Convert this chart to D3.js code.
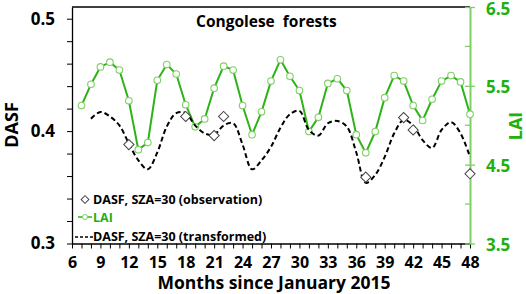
<!DOCTYPE html>
<html lang="en">
<head>
    <meta charset="UTF-8">
    <title>Congolese forests DASF / LAI</title>
    <script src="https://d3js.org/d3.v7.min.js"></script>
    <style>
        body {
            margin: 0;
            background: white;
            font-family: 'Open Sans', sans-serif;
        }
        svg text {
            font-weight: bold;
        }
    </style>
</head>
<body>
    <div id="chart"></div>

    <script>
        // months of each series
        const laiMonths = d3.range(7, 49);
        const laiValues = [5.25, 5.52, 5.74, 5.80, 5.70, 5.31, 4.69, 4.78, 5.57, 5.77,
            5.65, 5.26, 4.98, 5.08, 5.47, 5.75, 5.70, 5.25, 4.88, 5.17,
            5.56, 5.83, 5.62, 5.44, 4.92, 5.10, 5.53, 5.59, 5.44, 4.88,
            4.65, 4.92, 5.35, 5.63, 5.56, 5.25, 5.06, 5.33, 5.56, 5.63,
            5.55, 5.14];

        const dasfTransMonths = d3.range(8, 49);
        const dasfTransValues = [0.411, 0.417, 0.413, 0.405, 0.389, 0.374, 0.366, 0.381, 0.404, 0.416,
            0.416, 0.405, 0.398, 0.397, 0.405, 0.407, 0.388, 0.366, 0.374, 0.386,
            0.403, 0.415, 0.418, 0.401, 0.396, 0.407, 0.409, 0.404, 0.381, 0.354,
            0.361, 0.377, 0.398, 0.410, 0.405, 0.392, 0.385, 0.401, 0.408, 0.398,
            0.377];

        const dasfObsMonths = [12, 18, 21, 22, 37, 41, 42, 48];
        const dasfObsValues = [0.388, 0.413, 0.396, 0.413, 0.359, 0.412, 0.401, 0.362];

        const xTicks = d3.range(6, 49);
        const leftTicks = d3.range(0.3, 0.501, 0.02);
        const rightMajor = [3.5, 4.5, 5.5, 6.5];
        const rightMinor = [4, 5, 6];

        const width = 526, height = 294;
        const plotLeft = 72, plotRight = 470, plotTop = 7, plotBottom = 243.5;

        const green = "#22b00f";
        const lightGreen = "#7fcf66";

        const svg = d3.select("#chart")
            .append("svg")
            .attr("width", width)
            .attr("height", height);

        const x = d3.scaleLinear().domain([6, 48]).range([plotLeft, plotRight]);
        const yL = d3.scaleLinear().domain([0.3, 0.5104]).range([plotBottom, plotTop]);
        const yR = d3.scaleLinear().domain([3.5, 6.5]).range([plotBottom, plotTop]);

        // top frame line
        svg.append("line")
            .attr("x1", plotLeft).attr("x2", plotRight)
            .attr("y1", plotTop).attr("y2", plotTop)
            .attr("stroke", "black").attr("stroke-width", 1.3);

        // bottom axis
        const xAxis = svg.append("g")
            .attr("transform", `translate(0,${plotBottom})`)
            .call(d3.axisBottom(x)
                .tickValues(xTicks)
                .tickSize(5)
                .tickSizeOuter(0)
                .tickFormat(d => d % 3 === 0 ? d : ""));
        xAxis.select(".domain").attr("stroke-width", 1.3);
        xAxis.selectAll("text").filter(d => d % 3 !== 0).remove();
        xAxis.selectAll("text")
            .attr("font-size", 16)
            .attr("font-family", "'Open Sans', sans-serif")
            .attr("fill", "black")
            .attr("dy", "1.0em");

        // left axis
        const isMajor = d => Math.abs(d * 10 - Math.round(d * 10)) < 1e-6;
        const yAxis = svg.append("g")
            .attr("transform", `translate(${plotLeft},0)`)
            .call(d3.axisLeft(yL)
                .tickValues(leftTicks)
                .tickSize(5)
                .tickSizeOuter(0)
                .tickFormat(d => isMajor(d) ? d3.format(".1f")(d) : ""));
        yAxis.select(".domain").attr("stroke-width", 1.3);
        yAxis.selectAll("text").filter(d => !isMajor(d)).remove();
        yAxis.selectAll("text")
            .attr("font-size", 17)
            .attr("font-family", "'Open Sans', sans-serif")
            .attr("fill", "black")
            .attr("x", -17);

        // right axis (LAI)
        const rAxis = svg.append("g")
            .attr("transform", `translate(${plotRight},0)`)
            .call(d3.axisRight(yR)
                .tickValues(rightMajor)
                .tickSize(5)
                .tickSizeOuter(0)
                .tickFormat(d3.format(".1f")));
        rAxis.select(".domain").attr("stroke", lightGreen).attr("stroke-width", 2);
        rAxis.selectAll(".tick line").attr("x1", -5).attr("stroke", lightGreen).attr("stroke-width", 1.3);
        rAxis.selectAll("text")
            .attr("font-size", 17)
            .attr("font-family", "'Open Sans', sans-serif")
            .attr("fill", green)
            .attr("x", 16)
            .attr("dy", "0.42em");
        rAxis.selectAll(".minor")
            .data(rightMinor)
            .enter()
            .append("line")
            .attr("x1", -5).attr("x2", 0)
            .attr("y1", d => yR(d)).attr("y2", d => yR(d))
            .attr("stroke", lightGreen).attr("stroke-width", 1.3);

        // axis titles
        svg.append("text")
            .attr("transform", `translate(18,125) rotate(-90)`)
            .attr("text-anchor", "middle")
            .attr("font-size", 18)
            .text("DASF");

        svg.append("text")
            .attr("transform", `translate(522,126) rotate(-90)`)
            .attr("text-anchor", "middle")
            .attr("font-size", 18)
            .attr("fill", green)
            .text("LAI");

        svg.append("text")
            .attr("x", 274).attr("y", 289)
            .attr("text-anchor", "middle")
            .attr("font-size", 17.5)
            .text("Months since January 2015");

        svg.append("text")
            .attr("x", 196).attr("y", 27)
            .attr("font-size", 15.5)
            .style("white-space", "pre")
            .text("Congolese  forests");

        // LAI series
        const laiData = laiMonths.map((m, i) => ({ m, v: laiValues[i] }));
        svg.append("path")
            .datum(laiData)
            .attr("fill", "none")
            .attr("stroke", "#2db318")
            .attr("stroke-width", 2)
            .attr("d", d3.line().x(d => x(d.m)).y(d => yR(d.v)));

        svg.selectAll(".lai-pt")
            .data(laiData)
            .enter()
            .append("circle")
            .attr("cx", d => x(d.m))
            .attr("cy", d => yR(d.v))
            .attr("r", 3.3)
            .attr("fill", "white")
            .attr("stroke", lightGreen)
            .attr("stroke-width", 1.1);

        // transformed DASF
        const transData = dasfTransMonths.map((m, i) => ({ m, v: dasfTransValues[i] }));
        svg.append("path")
            .datum(transData)
            .attr("fill", "none")
            .attr("stroke", "black")
            .attr("stroke-width", 2)
            .attr("stroke-dasharray", "5,3")
            .attr("d", d3.line().curve(d3.curveCatmullRom).x(d => x(d.m)).y(d => yL(d.v)));

        // observed DASF
        const diamond = d3.symbol().type(d3.symbolSquare).size(52);
        svg.selectAll(".obs")
            .data(dasfObsMonths.map((m, i) => ({ m, v: dasfObsValues[i] })))
            .enter()
            .append("path")
            .attr("d", diamond)
            .attr("transform", d => `translate(${x(d.m)},${yL(d.v)}) rotate(45)`)
            .attr("fill", "white")
            .attr("stroke", "#444")
            .attr("stroke-width", 1);

        // legend
        const legend = svg.append("g");
        legend.append("path")
            .attr("d", d3.symbol().type(d3.symbolSquare).size(30))
            .attr("transform", "translate(85,199.5) rotate(45)")
            .attr("fill", "white")
            .attr("stroke", "#444");
        legend.append("text")
            .attr("x", 93).attr("y", 204)
            .attr("font-size", 12.5)
            .text("DASF, SZA=30 (observation)");

        legend.append("line")
            .attr("x1", 78).attr("x2", 92)
            .attr("y1", 217).attr("y2", 217)
            .attr("stroke", "#2db318").attr("stroke-width", 1.5);
        legend.append("circle")
            .attr("cx", 85).attr("cy", 217).attr("r", 2.5)
            .attr("fill", "white").attr("stroke", lightGreen);
        legend.append("text")
            .attr("x", 93).attr("y", 222)
            .attr("font-size", 12.5)
            .attr("fill", green)
            .text("LAI");

        legend.append("line")
            .attr("x1", 75).attr("x2", 93)
            .attr("y1", 237).attr("y2", 237)
            .attr("stroke", "black").attr("stroke-width", 1.5)
            .attr("stroke-dasharray", "3,2");
        legend.append("text")
            .attr("x", 93).attr("y", 241)
            .attr("font-size", 12.5)
            .text("DASF, SZA=30 (transformed)");
    </script>
</body>
</html>
